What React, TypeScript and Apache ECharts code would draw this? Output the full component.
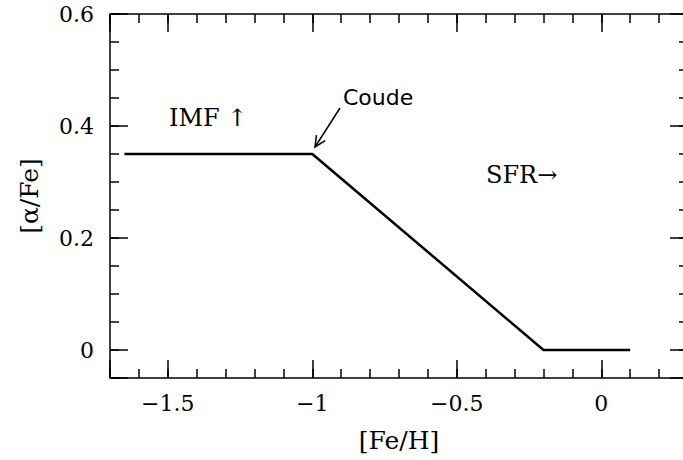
import React, { useEffect, useRef } from "react";
import * as echarts from "echarts";

const feH = [-1.65, -1, -0.2, 0.1];
const alphaFe = [0.35, 0.35, 0, 0];
const xTickLabels = [-1.5, -1, -0.5, 0];
const yTickLabels = [0, 0.2, 0.4, 0.6];
const xRange = [-1.7, 0.3];
const yRange = [-0.05, 0.6];

const SERIF = "DejaVu Serif";
const SANS = "DejaVu Sans";

const near = (arr: number[], v: number) => arr.some((a) => Math.abs(a - v) < 1e-6);

export default function App() {
  const ref = useRef<HTMLDivElement>(null);
  useEffect(() => {
    if (!ref.current) return;
    const chart = echarts.init(ref.current, undefined, { renderer: "svg" });
    const axisLine = { show: true, onZero: false, lineStyle: { color: "#000", width: 1.5 } };
    const noLine = { show: false, onZero: false };
    const majorX = (pos: string, labels: boolean) => ({
      type: "value",
      position: pos,
      min: xRange[0],
      max: xRange[1],
      splitNumber: 4,
      axisLine,
      axisTick: { show: true, inside: true, length: 18, lineStyle: { color: "#000", width: 1.5 } },
      splitLine: { show: false },
      axisLabel: {
        show: labels,
        margin: 14,
        hideOverlap: false,
        showMinLabel: true,
        showMaxLabel: true,
        fontFamily: SERIF,
        fontSize: 22,
        color: "#000",
        formatter: (v: number) =>
          near(xTickLabels, v) ? (Math.abs(v) < 1e-9 ? "0" : String(+v.toFixed(1)).replace("-", "\u2212")) : "",
      },
      ...(labels
        ? {
            name: "[Fe/H]",
            nameLocation: "middle",
            nameGap: 50,
            nameTextStyle: { fontFamily: SERIF, fontSize: 25, color: "#000" },
          }
        : {}),
    });
    const minorX = (pos: string) => ({
      type: "value",
      position: pos,
      min: xRange[0],
      max: xRange[1],
      interval: 0.1,
      axisLine: noLine,
      axisTick: { show: true, inside: true, length: 9, lineStyle: { color: "#000", width: 1.5 } },
      splitLine: { show: false },
      axisLabel: { show: false },
    });
    const majorY = (pos: string, labels: boolean) => ({
      type: "value",
      position: pos,
      min: yRange[0],
      max: yRange[1],
      splitNumber: 3,
      axisLine,
      axisTick: { show: true, inside: true, length: 18, lineStyle: { color: "#000", width: 1.5 } },
      splitLine: { show: false },
      axisLabel: {
        show: labels,
        margin: 16,
        hideOverlap: false,
        showMinLabel: true,
        showMaxLabel: true,
        fontFamily: SERIF,
        fontSize: 22,
        color: "#000",
        formatter: (v: number) => (near(yTickLabels, v) ? String(+v.toFixed(1)) : ""),
      },
      ...(labels
        ? {
            name: "[\u03b1/Fe]",
            nameLocation: "middle",
            nameRotate: 90,
            nameGap: 68,
            nameTextStyle: { fontFamily: SERIF, fontSize: 25, color: "#000" },
          }
        : {}),
    });
    const minorY = (pos: string) => ({
      type: "value",
      position: pos,
      min: yRange[0],
      max: yRange[1],
      interval: 0.05,
      axisLine: noLine,
      axisTick: { show: true, inside: true, length: 9, lineStyle: { color: "#000", width: 1.5 } },
      splitLine: { show: false },
      axisLabel: { show: false },
    });

    const tip = [315, 147];
    const tail = [340, 108];
    const dx = tail[0] - tip[0];
    const dy = tail[1] - tip[1];
    const len = Math.hypot(dx, dy);
    const ux = dx / len;
    const uy = dy / len;
    const barb = (ang: number) => {
      const c = Math.cos(ang);
      const s = Math.sin(ang);
      return [tip[0] + 12 * (ux * c - uy * s), tip[1] + 12 * (ux * s + uy * c)];
    };

    chart.setOption({
      animation: false,
      backgroundColor: "#fff",
      grid: { left: 110, top: 14, width: 578, height: 364, containLabel: false, outerBoundsMode: "none" },
      xAxis: [majorX("bottom", true), minorX("bottom"), majorX("top", false), minorX("top")],
      yAxis: [majorY("left", true), minorY("left"), majorY("right", false), minorY("right")],
      series: [
        {
          type: "line",
          xAxisIndex: 0,
          yAxisIndex: 0,
          data: feH.map((x, i) => [x, alphaFe[i]]),
          symbol: "none",
          lineStyle: { color: "#000", width: 2.5 },
        },
      ],
      graphic: [
        {
          type: "text",
          x: 169,
          y: 118,
          style: { text: "IMF \u2191", fontFamily: SERIF, fontSize: 24, fill: "#000", verticalAlign: "middle" },
        },
        {
          type: "text",
          x: 343,
          y: 97,
          style: { text: "Coude", fontFamily: SANS, fontSize: 22, fill: "#000", verticalAlign: "middle" },
        },
        {
          type: "text",
          x: 486,
          y: 175,
          style: { text: "SFR\u2192", fontFamily: SERIF, fontSize: 24, fill: "#000", verticalAlign: "middle" },
        },
        {
          type: "line",
          shape: { x1: tail[0], y1: tail[1], x2: tip[0], y2: tip[1] },
          style: { stroke: "#000", lineWidth: 1.5 },
        },
        {
          type: "polyline",
          shape: { points: [barb(0.45), tip, barb(-0.45)] },
          style: { stroke: "#000", lineWidth: 1.5, fill: null },
        },
      ],
    });
    return () => chart.dispose();
  }, []);
  return (
    <div
      ref={ref}
      style={{ position: "fixed", left: 0, top: 0, width: 683, height: 460, background: "#fff" }}
    />
  );
}
